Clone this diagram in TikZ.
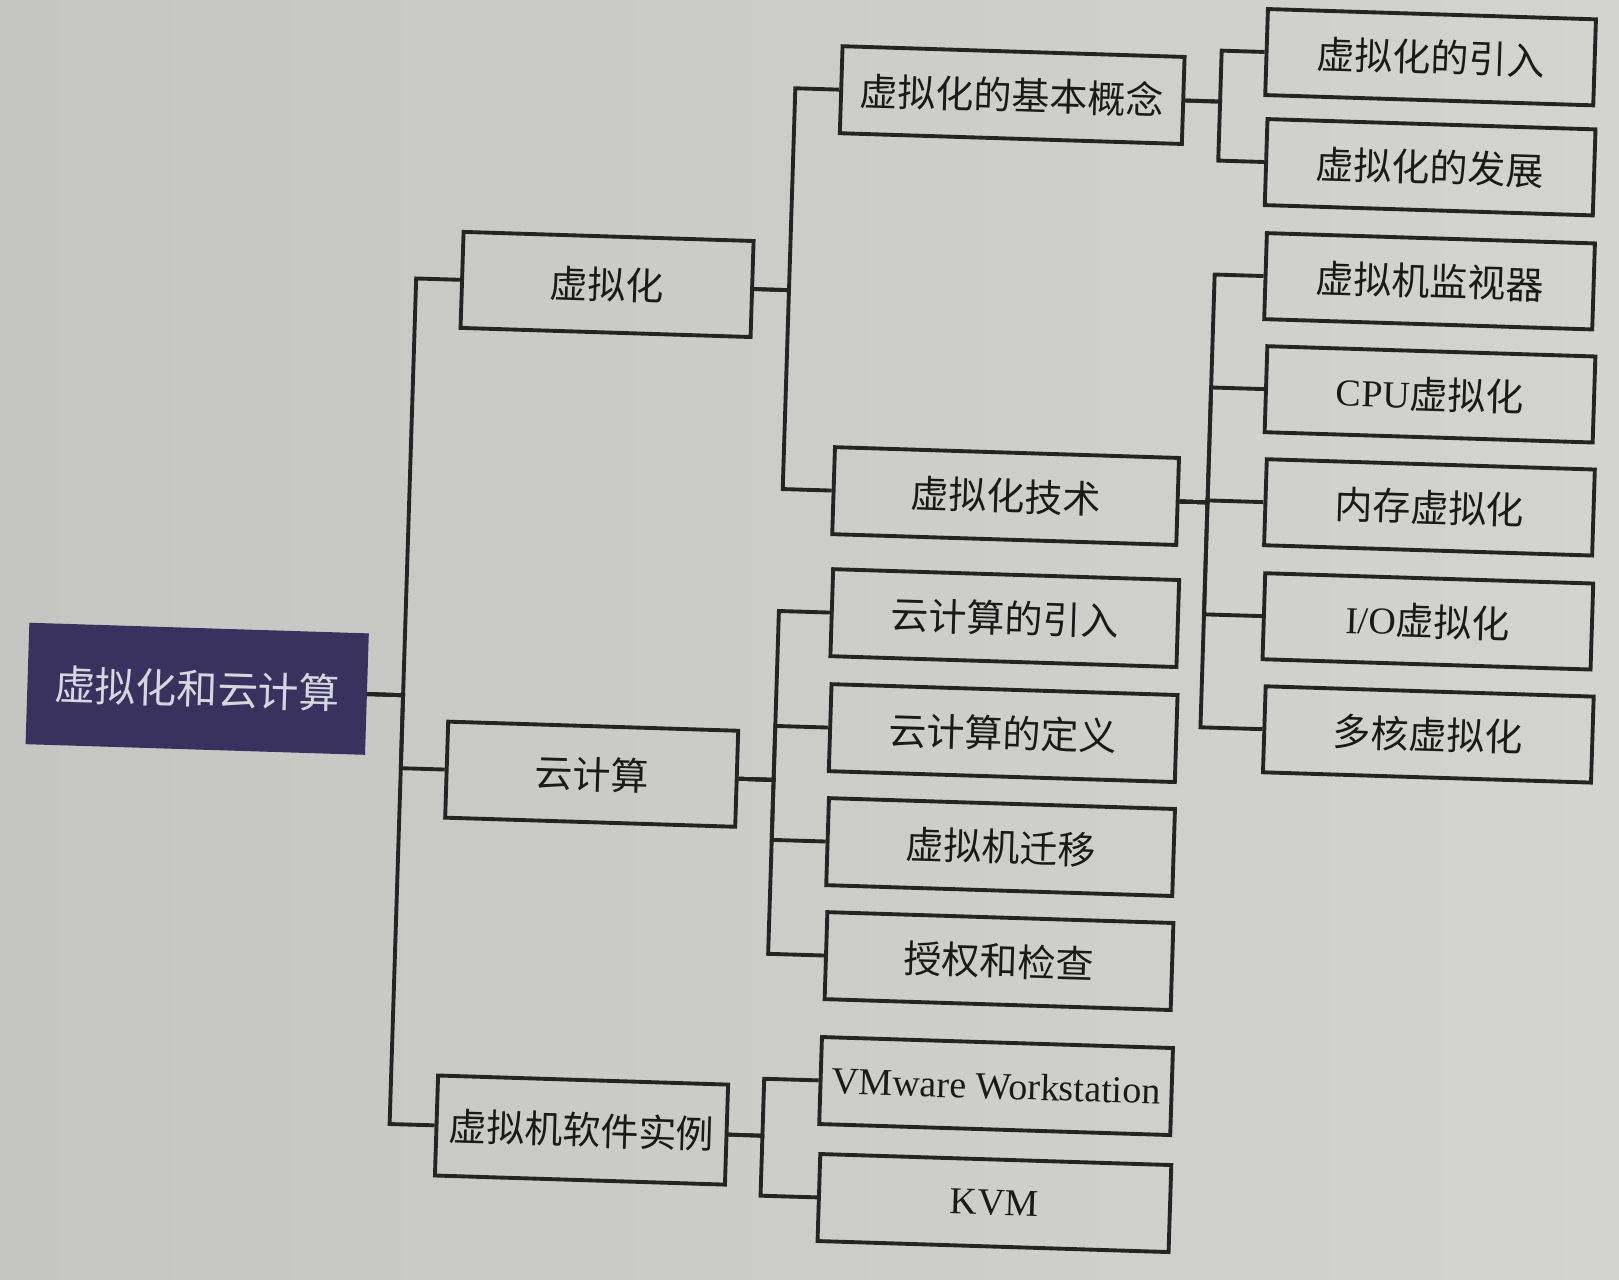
\documentclass[tikz,border=0pt]{standalone}
\usepackage{fontspec}
\setmainfont{Liberation Serif}
\newfontfamily\cjk{Noto Sans CJK SC}
\definecolor{paperL}{RGB}{197,198,194}
\definecolor{paperR}{RGB}{211,212,208}
\definecolor{linecol}{RGB}{36,36,36}
\definecolor{inkcol}{RGB}{26,26,26}
\definecolor{rootfill}{RGB}{57,50,94}
\definecolor{roottext}{RGB}{214,214,222}
% parent -> trunk x, parent y -> child, child y
\newcommand\treebranch[5]{\draw[link] (#1.east) -- (#2,#3) -- (#2,#5) -- (#4.west);}
\begin{document}
\begin{tikzpicture}[x=0.01cm,y=-0.01cm,
  box/.style={draw=linecol, line width=1.1pt, inner sep=0pt, text=inkcol,
    font=\fontsize{10.8}{13}\selectfont\cjk},
  lvA/.style={box, minimum width=2.9cm, minimum height=0.96cm},
  lvB/.style={box, minimum width=3.46cm, minimum height=0.87cm},
  lvC/.style={box, minimum width=3.28cm, minimum height=0.86cm},
  rootbox/.style={fill=rootfill, draw=rootfill, inner sep=0pt,
    minimum width=3.38cm, minimum height=1.2cm, text=roottext,
    font=\fontsize{11.6}{14}\selectfont\cjk},
  link/.style={draw=linecol, line width=1.1pt, line join=miter}]
\useasboundingbox (0,0) rectangle (1619,1280);
\shade[left color=paperL, right color=paperR] (0,0) rectangle (1619,1280);

\begin{scope}[rotate around={-1.8:(810,640)}, transform shape]
  % root
  \node[rootbox] (root) at (199,708) {虚拟化和云计算};

  % first level
  \node[lvA] (v) at (596,291) {虚拟化};
  \node[lvA] (c) at (596,781) {云计算};
  \node[lvA, minimum height=1.0cm] (s) at (597,1137) {虚拟机软件实例};

  % second level
  \node[lvB, minimum width=3.42cm] (b1) at (995,89) {虚拟化的基本概念};
  \node[lvB, minimum width=3.44cm] (b2) at (1001,490) {虚拟化技术};
  \node[lvB] (c1) at (1004,612) {云计算的引入};
  \node[lvB] (c2) at (1006,727) {云计算的定义};
  \node[lvB] (c3) at (1007,841) {虚拟机迁移};
  \node[lvB] (c4) at (1009,955) {授权和检查};
  \node[lvB, minimum width=3.51cm] (s1) at (1010,1080) {\rmfamily VMware Workstation};
  \node[lvB, minimum width=3.51cm] (s2) at (1012,1197) {\rmfamily KVM};

  % third level
  \node[lvC] (d1) at (1412,38) {虚拟化的引入};
  \node[lvC] (d2) at (1415,148) {虚拟化的发展};
  \node[lvC] (t1) at (1418,262) {虚拟机监视器};
  \node[lvC] (t2) at (1422,375) {{\rmfamily CPU}虚拟化};
  \node[lvC] (t3) at (1425,488) {内存虚拟化};
  \node[lvC] (t4) at (1427,602) {{\rmfamily I/O}虚拟化};
  \node[lvC] (t5) at (1431,715) {多核虚拟化};

  % connectors
  \treebranch{root}{405}{708}{v}{291}
  \treebranch{root}{405}{708}{c}{781}
  \treebranch{root}{405}{708}{s}{1137}

  \treebranch{v}{778}{291}{b1}{89}
  \treebranch{v}{778}{291}{b2}{490}

  \treebranch{c}{778}{781}{c1}{612}
  \treebranch{c}{778}{781}{c2}{727}
  \treebranch{c}{778}{781}{c3}{841}
  \treebranch{c}{778}{781}{c4}{955}

  \treebranch{s}{778}{1137}{s1}{1080}
  \treebranch{s}{778}{1137}{s2}{1197}

  \treebranch{b1}{1203}{89}{d1}{38}
  \treebranch{b1}{1203}{89}{d2}{148}

  \treebranch{b2}{1203}{490}{t1}{262}
  \treebranch{b2}{1203}{490}{t2}{375}
  \treebranch{b2}{1203}{490}{t3}{488}
  \treebranch{b2}{1203}{490}{t4}{602}
  \treebranch{b2}{1203}{490}{t5}{715}
\end{scope}
\end{tikzpicture}
\end{document}
